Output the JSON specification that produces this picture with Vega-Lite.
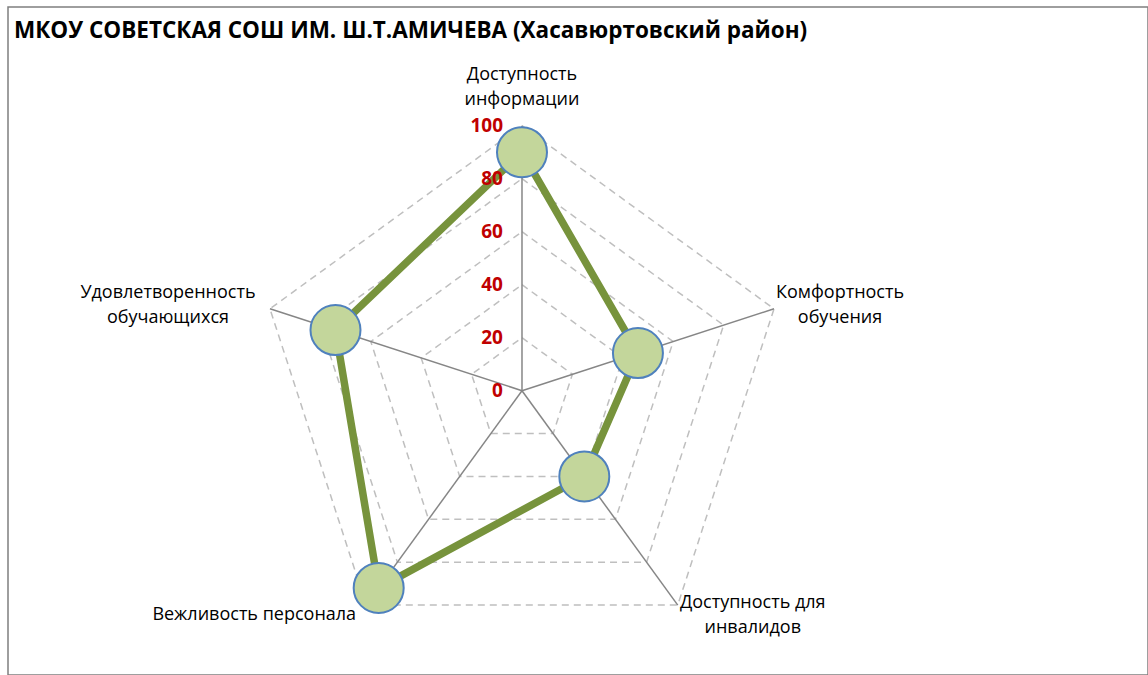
{
  "$schema": "https://vega.github.io/schema/vega-lite/v6.json",
  "width": 1140,
  "height": 668,
  "autosize": {"type": "none"},
  "padding": {"left": 8, "top": 7, "right": 0, "bottom": 0},
  "background": "white",
  "config": {"view": {"stroke": "#7F7F7F", "strokeWidth": 1.5}},
  "title": {
    "text": "МКОУ СОВЕТСКАЯ СОШ ИМ. Ш.Т.АМИЧЕВА (Хасавюртовский район)",
    "anchor": "start",
    "orient": "top",
    "offset": -35,
    "dx": 6,
    "font": "Open Sans",
    "fontSize": 22.5,
    "fontWeight": "bold",
    "color": "#000000"
  },
  "datasets": {
    "scores": [
      {"category": "Доступность информации", "label": "Доступность\nинформации", "idx": 0, "value": 90},
      {"category": "Комфортность обучения", "label": "Комфортность\nобучения", "idx": 1, "value": 46},
      {"category": "Доступность для инвалидов", "label": "Доступность для\nинвалидов", "idx": 2, "value": 40},
      {"category": "Вежливость персонала", "label": "Вежливость персонала", "idx": 3, "value": 92},
      {"category": "Удовлетворенность обучающихся", "label": "Удовлетворенность\nобучающихся", "idx": 4, "value": 74}
    ],
    "levels": [
      {"level": 0, "spoke": [0, 1, 2, 3, 4]},
      {"level": 20, "spoke": [0, 1, 2, 3, 4]},
      {"level": 40, "spoke": [0, 1, 2, 3, 4]},
      {"level": 60, "spoke": [0, 1, 2, 3, 4]},
      {"level": 80, "spoke": [0, 1, 2, 3, 4]},
      {"level": 100, "spoke": [0, 1, 2, 3, 4]}
    ]
  },
  "encoding": {
    "x": {"field": "px", "type": "quantitative", "scale": {"domain": [-193.96, 236.23], "nice": false, "zero": false}, "axis": null},
    "y": {"field": "py", "type": "quantitative", "scale": {"domain": [-107.29, 144.79], "nice": false, "zero": false}, "axis": null}
  },
  "layer": [
    {
      "data": {"name": "levels"},
      "transform": [
        {"filter": "datum.level > 0"},
        {"flatten": ["spoke"]},
        {"calculate": "PI / 2 - datum.spoke * 2 * PI / 5", "as": "ang"},
        {"calculate": "datum.level * cos(datum.ang)", "as": "px"},
        {"calculate": "datum.level * sin(datum.ang)", "as": "py"}
      ],
      "mark": {"type": "line", "interpolate": "linear-closed", "color": "#BFBFBF", "strokeWidth": 1.5, "strokeDash": [7, 5]},
      "encoding": {
        "detail": {"field": "level", "type": "nominal"},
        "order": {"field": "spoke", "type": "quantitative"}
      }
    },
    {
      "data": {"name": "scores"},
      "transform": [
        {"calculate": "PI / 2 - datum.idx * 2 * PI / 5", "as": "ang"},
        {"calculate": "100 * cos(datum.ang)", "as": "px"},
        {"calculate": "100 * sin(datum.ang)", "as": "py"}
      ],
      "mark": {"type": "rule", "color": "#868686", "strokeWidth": 1.5},
      "encoding": {"x2": {"datum": 0}, "y2": {"datum": 0}}
    },
    {
      "data": {"name": "scores"},
      "transform": [
        {"calculate": "PI / 2 - datum.idx * 2 * PI / 5", "as": "ang"},
        {"calculate": "datum.value * cos(datum.ang)", "as": "px"},
        {"calculate": "datum.value * sin(datum.ang)", "as": "py"}
      ],
      "mark": {"type": "line", "interpolate": "linear-closed", "color": "#77933C", "strokeWidth": 7.5},
      "encoding": {"order": {"field": "idx", "type": "quantitative"}}
    },
    {
      "data": {"name": "levels"},
      "transform": [
        {"calculate": "0", "as": "px"},
        {"calculate": "datum.level", "as": "py"}
      ],
      "mark": {"type": "text", "align": "right", "baseline": "middle", "dx": -19, "font": "Open Sans", "fontSize": 19, "fontWeight": "bold", "color": "#C00000"},
      "encoding": {"text": {"field": "level", "type": "quantitative"}}
    },
    {
      "data": {"name": "scores"},
      "transform": [
        {"calculate": "PI / 2 - datum.idx * 2 * PI / 5", "as": "ang"},
        {"calculate": "datum.value * cos(datum.ang)", "as": "px"},
        {"calculate": "datum.value * sin(datum.ang)", "as": "py"}
      ],
      "mark": {"type": "point", "shape": "circle", "filled": true, "size": 2500, "fill": "#C3D69B", "stroke": "#4F81BD", "strokeWidth": 2, "opacity": 1, "fillOpacity": 1}
    },
    {
      "data": {"name": "scores"},
      "transform": [
        {"filter": "datum.idx == 0"},
        {"calculate": "PI / 2 - datum.idx * 2 * PI / 5", "as": "ang"},
        {"calculate": "100 * cos(datum.ang)", "as": "px"},
        {"calculate": "100 * sin(datum.ang)", "as": "py"}
      ],
      "mark": {"type": "text", "align": "center", "baseline": "middle", "lineBreak": "\n", "lineHeight": 25, "dx": 0, "dy": -51, "font": "Open Sans", "fontSize": 18, "color": "#000000"},
      "encoding": {"text": {"field": "label"}}
    },
    {
      "data": {"name": "scores"},
      "transform": [
        {"filter": "datum.idx == 1"},
        {"calculate": "PI / 2 - datum.idx * 2 * PI / 5", "as": "ang"},
        {"calculate": "100 * cos(datum.ang)", "as": "px"},
        {"calculate": "100 * sin(datum.ang)", "as": "py"}
      ],
      "mark": {"type": "text", "align": "center", "baseline": "middle", "lineBreak": "\n", "lineHeight": 25, "dx": 66, "dy": -16, "font": "Open Sans", "fontSize": 18, "color": "#000000"},
      "encoding": {"text": {"field": "label"}}
    },
    {
      "data": {"name": "scores"},
      "transform": [
        {"filter": "datum.idx == 2"},
        {"calculate": "PI / 2 - datum.idx * 2 * PI / 5", "as": "ang"},
        {"calculate": "100 * cos(datum.ang)", "as": "px"},
        {"calculate": "100 * sin(datum.ang)", "as": "py"}
      ],
      "mark": {"type": "text", "align": "center", "baseline": "middle", "lineBreak": "\n", "lineHeight": 25, "dx": 75, "dy": -2, "font": "Open Sans", "fontSize": 18, "color": "#000000"},
      "encoding": {"text": {"field": "label"}}
    },
    {
      "data": {"name": "scores"},
      "transform": [
        {"filter": "datum.idx == 3"},
        {"calculate": "PI / 2 - datum.idx * 2 * PI / 5", "as": "ang"},
        {"calculate": "100 * cos(datum.ang)", "as": "px"},
        {"calculate": "100 * sin(datum.ang)", "as": "py"}
      ],
      "mark": {"type": "text", "align": "center", "baseline": "middle", "lineBreak": "\n", "lineHeight": 25, "dx": -112, "dy": 10, "font": "Open Sans", "fontSize": 18, "color": "#000000"},
      "encoding": {"text": {"field": "label"}}
    },
    {
      "data": {"name": "scores"},
      "transform": [
        {"filter": "datum.idx == 4"},
        {"calculate": "PI / 2 - datum.idx * 2 * PI / 5", "as": "ang"},
        {"calculate": "100 * cos(datum.ang)", "as": "px"},
        {"calculate": "100 * sin(datum.ang)", "as": "py"}
      ],
      "mark": {"type": "text", "align": "center", "baseline": "middle", "lineBreak": "\n", "lineHeight": 25, "dx": -102, "dy": -16, "font": "Open Sans", "fontSize": 18, "color": "#000000"},
      "encoding": {"text": {"field": "label"}}
    }
  ]
}
